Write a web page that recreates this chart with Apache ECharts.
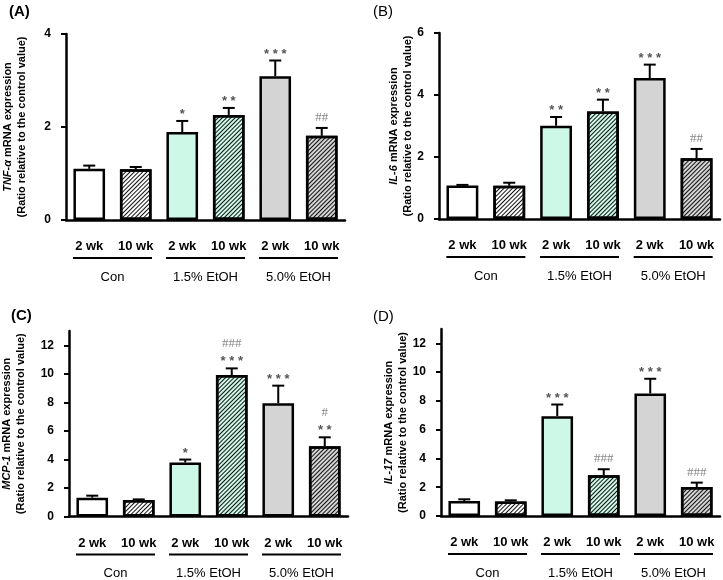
<!DOCTYPE html>
<html>
<head>
<meta charset="utf-8">
<script src="https://cdn.jsdelivr.net/npm/echarts@6/dist/echarts.min.js"></script>
<style>
html, body { margin: 0; padding: 0; background: #fff; }
#chart { width: 723px; height: 580px; }
</style>
</head>
<body>
<div id="chart"></div>
<script>
// bars, left to right
const weeks = ['2 wk', '10 wk', '2 wk', '10 wk', '2 wk', '10 wk'];
const groups = ['Con', '1.5% EtOH', '5.0% EtOH'];
const fills = ['#ffffff', '#ffffff', '#cdf7e6', '#cdf7e6', '#d4d4d4', '#d4d4d4'];
const hatched = [false, true, false, true, false, true];

// (A) TNF-alpha
const tnfMean = [1.10, 1.09, 1.89, 2.26, 3.09, 1.81];
const tnfErr = [0.07, 0.05, 0.24, 0.15, 0.34, 0.17];
const tnfStars = ['', '', '*', '**', '***', ''];
const tnfHash = ['', '', '', '', '', '##'];

// (B) IL-6
const il6Mean = [1.08, 1.07, 3.01, 3.47, 4.55, 1.96];
const il6Err = [0.02, 0.10, 0.28, 0.38, 0.43, 0.30];
const il6Stars = ['', '', '**', '**', '***', ''];
const il6Hash = ['', '', '', '', '', '##'];

// (C) MCP-1
const mcpMean = [1.32, 1.16, 3.78, 9.91, 7.94, 4.92];
const mcpErr = [0.14, 0.04, 0.21, 0.47, 1.23, 0.63];
const mcpStars = ['', '', '*', '***', '***', '**'];
const mcpHash = ['', '', '', '###', '', '#'];

// (D) IL-17
const il17Mean = [1.04, 1.00, 6.94, 2.83, 8.52, 2.02];
const il17Err = [0.12, 0.09, 0.81, 0.42, 1.02, 0.30];
const il17Stars = ['', '', '***', '', '***', ''];
const il17Hash = ['', '', '', '###', '', '###'];

const panels = [
  { tag: '(A)', bold: true, gene: 'TNF-α', mean: tnfMean, err: tnfErr, stars: tnfStars, hash: tnfHash,
    max: 4, interval: 2, grid: { left: 66, top: 34, width: 279, height: 186 }, nameGap: 37, title: { left: 9, top: 4 } },
  { tag: '(B)', bold: false, gene: 'IL-6', mean: il6Mean, err: il6Err, stars: il6Stars, hash: il6Hash,
    max: 6, interval: 2, grid: { left: 439, top: 33, width: 281, height: 186 }, nameGap: 23, title: { left: 373, top: 4 } },
  { tag: '(C)', bold: true, gene: 'MCP-1', mean: mcpMean, err: mcpErr, stars: mcpStars, hash: mcpHash,
    max: 13, interval: 2, grid: { left: 69, top: 331, width: 279, height: 187 }, nameGap: 41, title: { left: 11, top: 308 } },
  { tag: '(D)', bold: false, gene: 'IL-17', mean: il17Mean, err: il17Err, stars: il17Stars, hash: il17Hash,
    max: 13, interval: 2, grid: { left: 441, top: 329, width: 279, height: 187 }, nameGap: 24, title: { left: 373, top: 309 } }
];

const hatch = {
  symbol: 'rect', symbolSize: 1, color: '#111',
  dashArrayX: [1, 0], dashArrayY: [1, 2], rotation: -Math.PI / 4
};

const FONT = 'Arial, "Liberation Sans", sans-serif';

function errorBars(p) {
  return function (params, api) {
    const i = api.value(0);
    const base = api.coord([i, api.value(1)]);
    const top = api.coord([i, api.value(1) + api.value(2)]);
    const half = 6;
    const kids = [
      { type: 'line', shape: { x1: base[0], y1: base[1], x2: top[0], y2: top[1] }, style: { stroke: '#000', lineWidth: 2 } },
      { type: 'line', shape: { x1: top[0] - half, y1: top[1], x2: top[0] + half, y2: top[1] }, style: { stroke: '#000', lineWidth: 2 } }
    ];
    const s = p.stars[params.dataIndex];
    const h = p.hash[params.dataIndex];
    let y = top[1] - 4;
    if (s) {
      kids.push({ type: 'text', style: { text: s.split('').join(' '), x: top[0], y: y + 4, align: 'center', verticalAlign: 'bottom',
        font: 'bold 13px ' + FONT, fill: '#555' } });
      y -= 14;
    }
    if (h) {
      kids.push({ type: 'text', style: { text: h, x: top[0], y: y, align: 'center', verticalAlign: 'bottom',
        font: '13px "Liberation Serif", "Times New Roman", serif', fill: '#888' } });
    }
    return { type: 'group', children: kids };
  };
}

const option = { animation: false, title: [], grid: [], xAxis: [], yAxis: [], series: [] };

panels.forEach(function (p, k) {
  option.title.push({ text: p.tag, left: p.title.left, top: p.title.top, padding: 0,
    textStyle: { fontFamily: FONT, fontSize: 15, fontWeight: p.bold ? 'bold' : 'normal', color: '#000' } });
  option.grid.push(Object.assign({ containLabel: false }, p.grid));

  option.xAxis.push({
    type: 'category', gridIndex: k, data: weeks, position: 'bottom',
    axisLine: { lineStyle: { color: '#000', width: 2.5 } },
    axisTick: { alignWithLabel: true, length: 4, lineStyle: { color: '#000', width: 2 } },
    axisLabel: { interval: 0, margin: 20, fontFamily: FONT, fontSize: 13, fontWeight: 'bold', color: '#000' }
  });
  option.xAxis.push({
    type: 'category', gridIndex: k, data: groups, position: 'bottom',
    axisLine: { show: false }, axisTick: { show: false },
    axisLabel: {
      interval: 0, margin: 37, color: '#000',
      formatter: function (v) { return '{ln|}\n{t|' + v + '}'; },
      rich: {
        ln: { width: 79, height: 2, backgroundColor: '#000' },
        t: { fontFamily: FONT, fontSize: 13, lineHeight: 36, color: '#000' }
      }
    }
  });

  option.yAxis.push({
    type: 'value', gridIndex: k, min: 0, max: p.max, interval: p.interval,
    splitLine: { show: false },
    axisLine: { show: true, lineStyle: { color: '#000', width: 2.5 } },
    axisTick: { show: true, length: 5, lineStyle: { color: '#000', width: 2 } },
    axisLabel: { margin: 15, fontFamily: FONT, fontSize: 12, fontWeight: 'bold', color: '#000', showMaxLabel: p.max % p.interval === 0 },
    name: '{g|' + p.gene + '}{n| mRNA expression}\n{n|(Ratio relative to the control value)}',
    nameLocation: 'middle', nameRotate: 90, nameGap: p.nameGap,
    nameTextStyle: {
      rich: {
        g: { fontFamily: FONT, fontSize: 11, fontWeight: 'bold', fontStyle: 'italic', color: '#000', lineHeight: 14 },
        n: { fontFamily: FONT, fontSize: 11, fontWeight: 'bold', color: '#000', lineHeight: 14 }
      }
    }
  });

  option.series.push({
    type: 'bar', xAxisIndex: k * 2, yAxisIndex: k, barWidth: '68%',
    itemStyle: { borderColor: '#000', borderWidth: 2.5 },
    data: p.mean.map(function (v, i) {
      return { value: v, itemStyle: hatched[i] ? { color: fills[i], decal: hatch } : { color: fills[i] } };
    })
  });
  option.series.push({
    type: 'custom', xAxisIndex: k * 2, yAxisIndex: k, z: 5,
    renderItem: errorBars(p),
    data: p.mean.map(function (v, i) { return [i, v, p.err[i]]; })
  });
});

const chart = echarts.init(document.getElementById('chart'));
chart.setOption(option);
</script>
</body>
</html>
